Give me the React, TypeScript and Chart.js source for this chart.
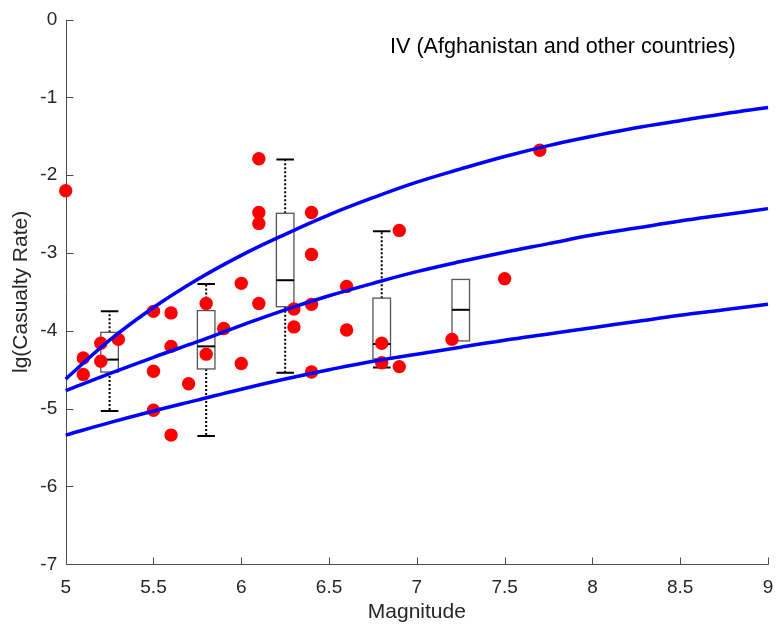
import React, { useEffect, useRef } from "react";
import { Chart, registerables } from "chart.js";

Chart.register(...registerables);

// ---------- data ----------
const curveMagnitude = [5, 5.25, 5.5, 5.75, 6, 6.25, 6.5, 6.75, 7, 7.25, 7.5, 7.75, 8, 8.25, 8.5, 8.75, 9];
const upperCurve = [-4.62, -4.12, -3.7, -3.34, -3.03, -2.76, -2.51, -2.29, -2.09, -1.92, -1.76, -1.62, -1.5, -1.39, -1.3, -1.21, -1.13];
const middleCurve = [-4.77, -4.55, -4.34, -4.14, -3.93, -3.73, -3.55, -3.39, -3.24, -3.11, -2.99, -2.88, -2.77, -2.68, -2.59, -2.51, -2.43];
const lowerCurve = [-5.34, -5.18, -5.03, -4.89, -4.75, -4.62, -4.5, -4.39, -4.3, -4.21, -4.12, -4.04, -3.96, -3.88, -3.8, -3.73, -3.66];

const eventMagnitude = [5.0, 5.1, 5.1, 5.2, 5.2, 5.3, 5.5, 5.5, 5.5, 5.6, 5.6, 5.6, 5.7, 5.8, 5.8, 5.9, 6.0, 6.0, 6.1, 6.1, 6.1, 6.1, 6.3, 6.3, 6.4, 6.4, 6.4, 6.4, 6.6, 6.6, 6.8, 6.8, 6.9, 6.9, 7.2, 7.5, 7.7];
const eventRate = [-2.2, -4.35, -4.56, -4.16, -4.39, -4.11, -3.75, -4.52, -5.02, -3.77, -4.2, -5.34, -4.68, -3.65, -4.3, -3.97, -3.39, -4.42, -1.79, -2.48, -2.62, -3.65, -3.72, -3.95, -2.48, -3.02, -3.66, -4.53, -3.43, -3.99, -4.16, -4.41, -2.71, -4.46, -4.11, -3.33, -1.68];

const boxMagnitude = [5.25, 5.8, 6.25, 6.8, 7.25];
const boxWhiskerLow = [-5.03, -5.35, -4.54, -4.47, -4.13];
const boxQ1 = [-4.53, -4.49, -3.69, -4.36, -4.13];
const boxMedian = [-4.37, -4.2, -3.35, -4.17, -3.73];
const boxQ3 = [-4.02, -3.74, -2.49, -3.58, -3.34];
const boxWhiskerHigh = [-3.75, -3.4, -1.8, -2.72, -3.34];

const xTickValues = [5, 5.5, 6, 6.5, 7, 7.5, 8, 8.5, 9];
const yTickValues = [-7, -6, -5, -4, -3, -2, -1, 0];

const annotationText = "IV (Afghanistan and other countries)";
const xTitle = "Magnitude";
const yTitle = "lg(Casualty Rate)";

// ---------- styles ----------
const FONT = "'Liberation Sans', Arial, Helvetica, sans-serif";
const TEXT_COLOR = "#262626";
const AXIS_COLOR = "#4a4a4a";
const BOX_HALF_WIDTH = 0.05; // in magnitude units

export default function App() {
  const ref = useRef<HTMLCanvasElement>(null);

  useEffect(() => {
    if (!ref.current) return;

    const axesAndBoxes = {
      id: "axesAndBoxes",
      beforeDatasetsDraw(chart: any) {
        const { ctx, chartArea, scales } = chart;
        const xs = scales.x;
        const ys = scales.y;
        ctx.save();
        ctx.strokeStyle = AXIS_COLOR;
        ctx.lineWidth = 1;
        ctx.setLineDash([]);
        const ax = Math.round(chartArea.left) + 0.5;
        const ay = Math.round(chartArea.bottom) + 0.5;
        ctx.beginPath();
        ctx.moveTo(ax, Math.round(chartArea.top));
        ctx.lineTo(ax, ay);
        ctx.lineTo(Math.round(chartArea.right) + 0.5, ay);
        ctx.stroke();
        ctx.beginPath();
        xTickValues.forEach((v) => {
          const px = Math.round(xs.getPixelForValue(v)) + 0.5;
          ctx.moveTo(px, ay);
          ctx.lineTo(px, ay - 7);
        });
        yTickValues.forEach((v) => {
          const py = Math.round(ys.getPixelForValue(v)) + 0.5;
          ctx.moveTo(ax, py);
          ctx.lineTo(ax + 7, py);
        });
        ctx.stroke();

        for (let i = 0; i < boxMagnitude.length; i++) {
          const cx = xs.getPixelForValue(boxMagnitude[i]);
          const l = xs.getPixelForValue(boxMagnitude[i] - BOX_HALF_WIDTH);
          const r = xs.getPixelForValue(boxMagnitude[i] + BOX_HALF_WIDTH);
          const q1 = ys.getPixelForValue(boxQ1[i]);
          const q3 = ys.getPixelForValue(boxQ3[i]);
          const md = ys.getPixelForValue(boxMedian[i]);
          const wl = ys.getPixelForValue(boxWhiskerLow[i]);
          const wh = ys.getPixelForValue(boxWhiskerHigh[i]);
          const hasHigh = boxWhiskerHigh[i] > boxQ3[i];
          const hasLow = boxWhiskerLow[i] < boxQ1[i];

          ctx.strokeStyle = "#000";
          ctx.lineWidth = 2;
          ctx.setLineDash([2, 2]);
          ctx.beginPath();
          if (hasHigh) {
            ctx.moveTo(cx, q3);
            ctx.lineTo(cx, wh);
          }
          if (hasLow) {
            ctx.moveTo(cx, q1);
            ctx.lineTo(cx, wl);
          }
          ctx.stroke();
          ctx.setLineDash([]);
          ctx.beginPath();
          if (hasHigh) {
            ctx.moveTo(l, wh);
            ctx.lineTo(r, wh);
          }
          if (hasLow) {
            ctx.moveTo(l, wl);
            ctx.lineTo(r, wl);
          }
          ctx.stroke();
          ctx.strokeStyle = "#555";
          ctx.lineWidth = 1.3;
          ctx.strokeRect(l, q3, r - l, q1 - q3);
          ctx.strokeStyle = "#000";
          ctx.lineWidth = 2;
          ctx.beginPath();
          ctx.moveTo(l, md);
          ctx.lineTo(r, md);
          ctx.stroke();
        }
        ctx.restore();
      },
      afterDraw(chart: any) {
        const { ctx } = chart;
        ctx.save();
        ctx.font = `21.6px ${FONT}`;
        ctx.fillStyle = "#000";
        ctx.textBaseline = "middle";
        ctx.textAlign = "left";
        ctx.fillText(annotationText, 390, 47);
        ctx.restore();
      },
    };

    const line = (vals: number[]) => ({
      type: "line" as const,
      data: curveMagnitude.map((m, i) => ({ x: m, y: vals[i] })),
      borderColor: "#0000ff",
      backgroundColor: "#0000ff",
      borderWidth: 3.5,
      pointRadius: 0,
      fill: false,
      tension: 0.4,
      order: 0,
      clip: false,
    });

    const chart = new Chart(ref.current, {
      type: "scatter",
      data: {
        datasets: [
          line(upperCurve),
          line(middleCurve),
          line(lowerCurve),
          {
            type: "scatter",
            data: eventMagnitude.map((m, i) => ({ x: m, y: eventRate[i] })),
            backgroundColor: "#ff0000",
            borderColor: "#ff0000",
            borderWidth: 0,
            pointRadius: 6.7,
            order: 1,
            clip: false,
          } as any,
        ],
      },
      options: {
        animation: false,
        responsive: true,
        maintainAspectRatio: false,
        layout: { padding: { top: 19.5, right: 10, left: 0, bottom: 0 } },
        plugins: { legend: { display: false }, tooltip: { enabled: false } },
        scales: {
          x: {
            type: "linear",
            min: 5,
            max: 9,
            ticks: {
              stepSize: 0.5,
              color: TEXT_COLOR,
              font: { family: FONT, size: 19 },
              padding: 0,
              maxRotation: 0,
              callback: (v: any) => String(Number(v)),
            },
            grid: { display: false, drawTicks: true, tickLength: 12 },
            border: { display: false },
            title: {
              display: true,
              text: xTitle,
              color: TEXT_COLOR,
              font: { family: FONT, size: 21 },
              padding: { top: 0, bottom: 5 },
            },
            afterFit(s: any) {
              s.height = 65.7;
              s.paddingLeft = 0;
              s.paddingRight = 0;
            },
          },
          y: {
            type: "linear",
            min: -7,
            max: 0,
            ticks: {
              stepSize: 1,
              color: TEXT_COLOR,
              font: { family: FONT, size: 19 },
              padding: 0,
              callback: (v: any) => String(Number(v)),
            },
            grid: { display: false, drawTicks: true, tickLength: 8.5 },
            border: { display: false },
            title: {
              display: true,
              text: yTitle,
              color: TEXT_COLOR,
              font: { family: FONT, size: 21 },
              padding: { top: 8.5, bottom: 0 },
            },
            afterFit(s: any) {
              s.width = 65.7;
              s.paddingTop = 0;
              s.paddingBottom = 0;
            },
          },
        },
      },
      plugins: [axesAndBoxes],
    } as any);

    return () => chart.destroy();
  }, []);

  return (
    <div style={{ position: "fixed", left: 0, top: 0, width: 778, height: 630, background: "#fff" }}>
      <canvas ref={ref} />
    </div>
  );
}
